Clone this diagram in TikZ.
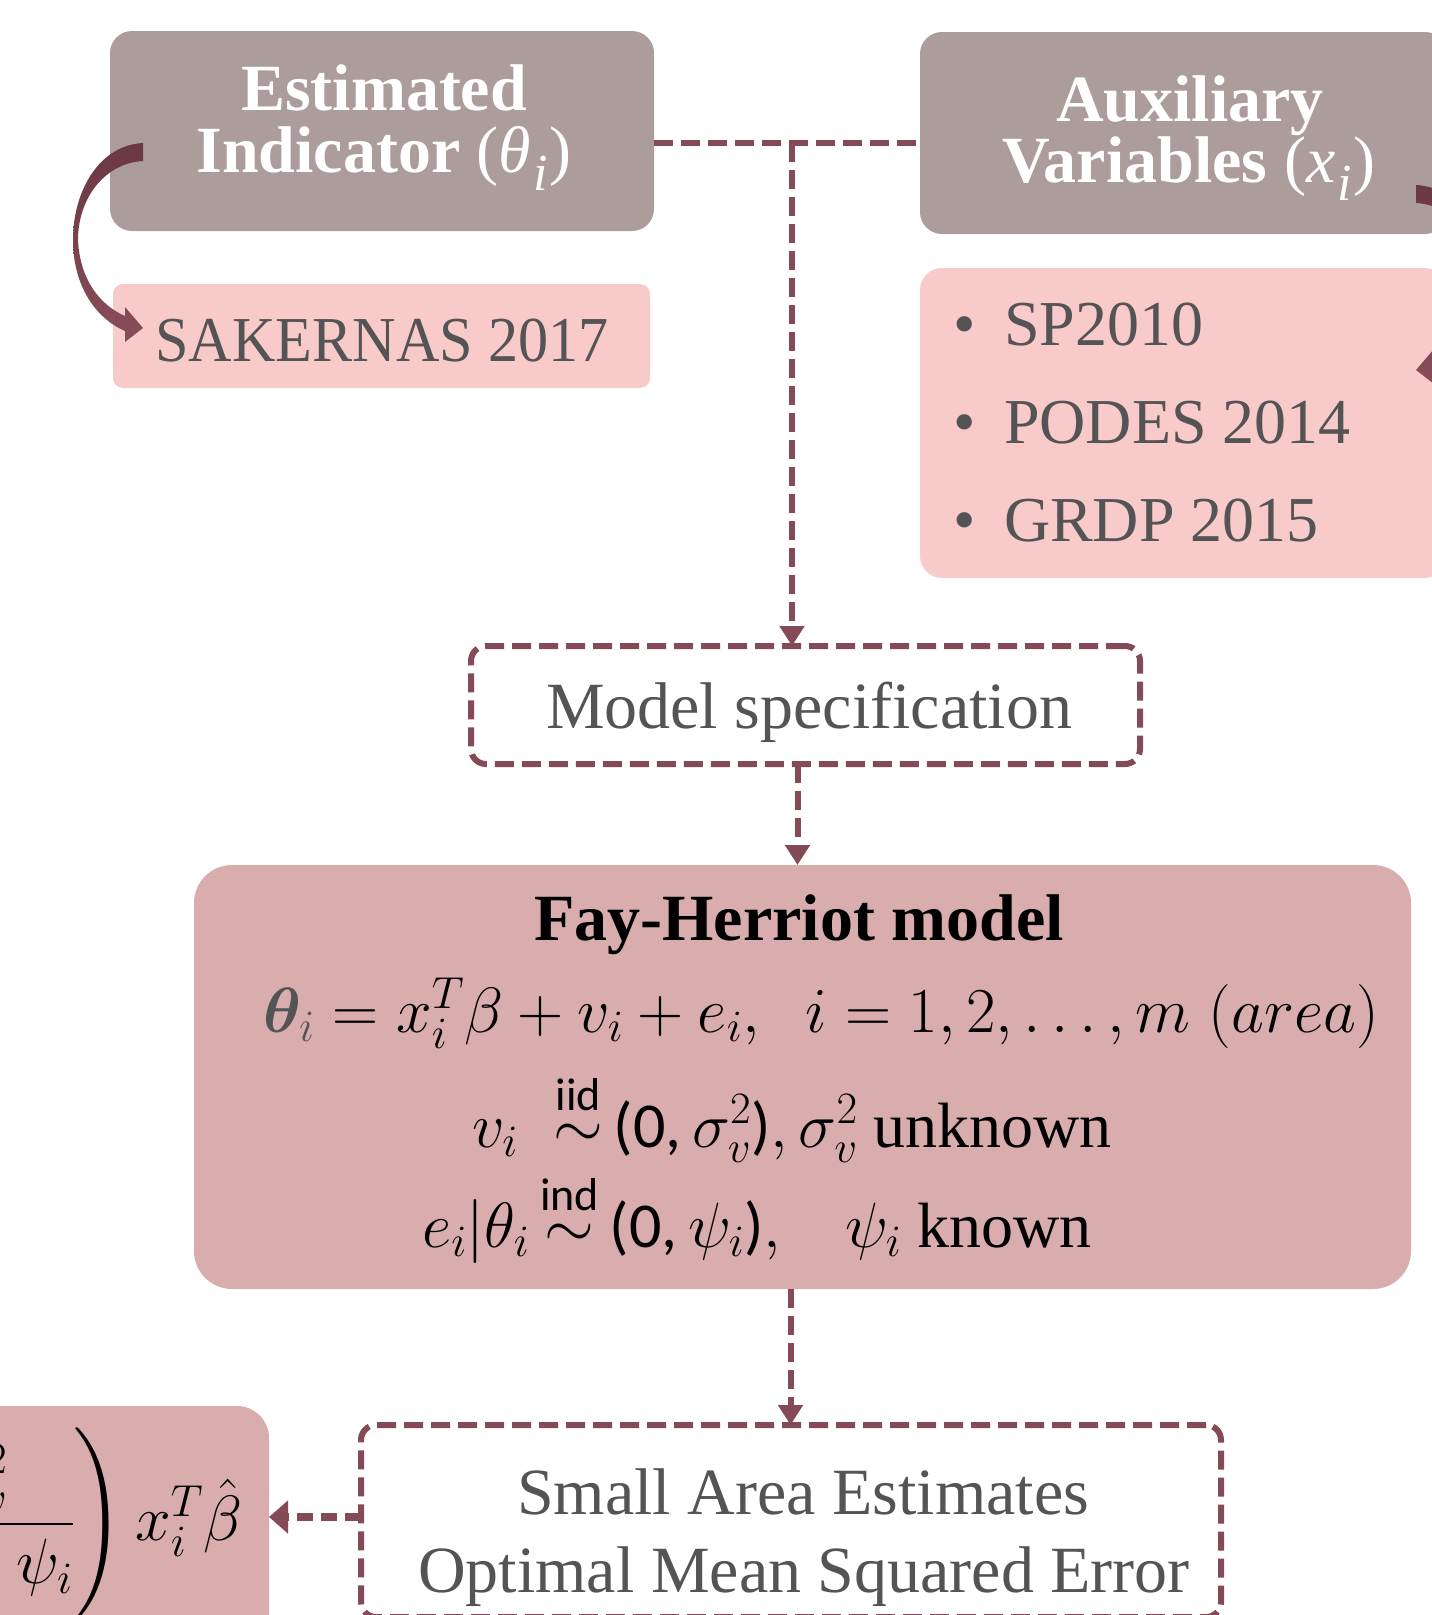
\documentclass[tikz,border=0pt]{standalone}
\usepackage{fix-cm}
\usepackage{amsmath,amssymb,bm}
\usepackage{fontspec}
\setmainfont{Liberation Serif}
\setsansfont{Carlito}
\usetikzlibrary{arrows.meta,calc}
\definecolor{boxgray}{HTML}{AC9C9C}
\definecolor{pinklight}{HTML}{F9CACA}
\definecolor{faypink}{HTML}{D9ACAD}
\definecolor{dashcol}{HTML}{844B57}
\definecolor{txtgray}{HTML}{545454}
\definecolor{arrdark}{HTML}{6A3843}
\definecolor{arrlight}{HTML}{884D59}
\newcommand\cvpath{(143,143) .. controls (100,145) and (73,190) .. (73,240) .. controls (73,285) and (95,318) .. (125,331) -- (125,342) -- (143,328) -- (125,307) -- (125,316) .. controls (102,306) and (80,282) .. (78,240) .. controls (78,198) and (105,163) .. (143,161) -- cycle}
\newcommand\hdrvar[2]{{\mdseries(\textit{#1}\kern2pt\raisebox{-0.28em}{\fontsize{52}{52}\selectfont\textit{#2}}\kern2pt)}}
\begin{document}
\begin{tikzpicture}[x=1pt,y=-1pt,
  box/.style={rectangle, inner sep=0pt, outer sep=0pt, draw=none},
  hdrbox/.style={box, fill=boxgray, rounded corners=22pt},
  pinkbox/.style={box, fill=pinklight},
  faybox/.style={box, fill=faypink, rounded corners=38pt},
  dbox/.style={box, draw=dashcol, line width=6pt, dash pattern=on 19pt off 8pt, rounded corners=15pt},
  lbl/.style={inner sep=0pt, outer sep=0pt, anchor=base, font=\fontsize{64}{64}\selectfont, text=txtgray},
  lblb/.style={lbl, font=\fontsize{66}{66}\selectfont},
  hdr/.style={lbl, font=\fontsize{66}{66}\selectfont\bfseries, text=white},
  eq/.style={lbl, font=\fontsize{64}{64}\selectfont, text=black},
  dline/.style={draw=dashcol, line width=6pt, dash pattern=on 19pt off 8pt},
  darrow/.style={dline, -{Triangle[length=20pt,width=24pt]}},
]
\path[use as bounding box] (0,0) rectangle (1432,1615);
\clip (0,0) rectangle (1432,1615);
\fill[white] (0,0) rectangle (1432,1615);

% top left
\node[hdrbox, minimum width=544pt, minimum height=200pt] (est) at (382,131) {};
\node[hdr] (estt1) at (384,110) {Estimated};
\node[hdr] (estt2) at (384,172) {Indicator \hdrvar{θ}{i}};
\node[pinkbox, minimum width=537pt, minimum height=104pt, rounded corners=10pt] (sak) at (381.5,336) {};
\node[lbl] (sakt) at (382,361) {\scalebox{0.94}[1]{SAKERNAS 2017}};

% top right
\node[hdrbox, minimum width=527pt, minimum height=202pt] (aux) at (1183.5,133) {};
\node[hdr] (auxt1) at (1190,121) {Auxiliary};
\node[hdr] (auxt2) at (1189,182) {Variables \hdrvar{x}{i}};
\node[pinkbox, minimum width=527pt, minimum height=310pt, rounded corners=22pt] (src) at (1183.5,423) {};
\node[lbl] (b1) at (965,345) {\textbullet};
\node[lbl, anchor=base west] (s1) at (1004,345) {SP2010};
\node[lbl] (b2) at (965,443) {\textbullet};
\node[lbl, anchor=base west] (s2) at (1004,443) {PODES 2014};
\node[lbl] (b3) at (965,541) {\textbullet};
\node[lbl, anchor=base west] (s3) at (1004,541) {GRDP 2015};

% model specification
\node[dbox, minimum width=669pt, minimum height=118pt] (spec) at (805.5,705) {};
\node[lblb] (spect) at (809,728) {Model specification};

% Fay-Herriot
\node[faybox, minimum width=1217pt, minimum height=424pt] (fay) at (802.5,1077) {};
\node[lbl, text=black, font=\fontsize{66}{66}\selectfont\bfseries] (fayt) at (799,940) {Fay-Herriot model};
\node[eq] (eq1) at (821,1032) {$\textcolor{txtgray}{\bm{\theta}_i} = x_i^T\beta + v_i + e_i,\;\; i = 1, 2, \ldots, m\;(area)$};
\node[eq] (eq2) at (792,1147) {$v_i\;\;{\overset{\text{\fontsize{46}{46}\selectfont\sffamily iid}}{\sim}}\,\text{\sffamily(0,\,}\sigma_v^2\text{\sffamily)},\sigma_v^2$ unknown};
\node[eq] (eq3) at (757,1247) {$e_i|\theta_i\,{\overset{\text{\fontsize{46}{46}\selectfont\sffamily ind}}{\sim}}\,\text{\sffamily(0,\,}\psi_i\text{\sffamily)},\;\;\;\psi_i$ known};

% small area estimates
\node[dbox, minimum width=860pt, minimum height=192pt] (sae) at (791,1521) {};
\node[lblb] (saet1) at (803,1514) {Small Area Estimates};
\node[lblb] (saet2) at (804,1592) {Optimal Mean Squared Error};

% result box (cut off)
\node[faybox, minimum width=669pt, minimum height=294pt, rounded corners=32pt] (res) at (-65.5,1553) {};
\node[lbl, text=black, font=\fontsize{64}{64}\selectfont, anchor=base east] (rest) at (242,1540) {$\left(1-\dfrac{\hat\sigma_v^2}{\hat\sigma_v^2+\psi_i}\right)x_i^T\hat\beta$};

% connectors
\coordinate (j) at (792,143);
\coordinate (h) at (0,1517);
\draw[dline] (est.east |- j) -- (aux.west |- j);
\draw[darrow] (j) -- (j |- spec.north);
\draw[darrow] ([xshift=-8pt]spec.south) -- ([xshift=-8pt]spec.south |- fay.north);
\draw[darrow] ([xshift=-12pt]fay.south) -- ([xshift=-12pt]fay.south |- sae.north);
\draw[draw=dashcol, line width=8pt, dash pattern=on 16pt off 8pt, -{Triangle[length=19pt,width=32pt]}] (sae.west |- h) -- (res.east |- h);

% curved arrows
\shade[top color=arrdark, bottom color=arrlight] \cvpath;
\begin{scope}[shift={(1559,42)}, xscale=-1]
\shade[top color=arrdark, bottom color=arrlight] \cvpath;
\end{scope}
\end{tikzpicture}
\end{document}
